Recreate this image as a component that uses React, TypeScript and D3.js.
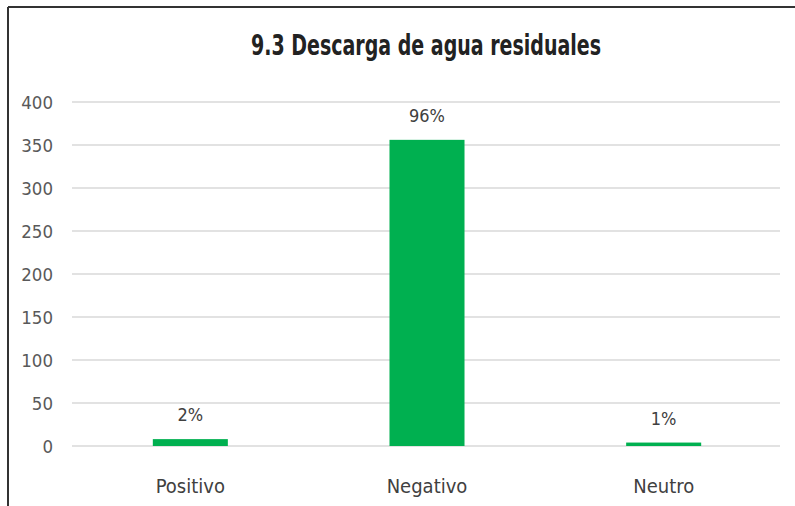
import React from "react";
import * as d3 from "d3";

const categories = ["Positivo", "Negativo", "Neutro"];
const values = [8, 356, 4];
const pctLabels = ["2%", "96%", "1%"];
const yTicks = [0, 50, 100, 150, 200, 250, 300, 350, 400];
const title = "9.3 Descarga de agua residuales";

const W = 795;
const H = 506;
const FONT = "'Liberation Sans Narrow', 'DejaVu Sans Condensed', 'Arial Narrow', sans-serif";

export default function App() {
  const x = d3.scaleBand<string>().domain(categories).range([72, 782]).paddingInner(0.683).paddingOuter(0.3415);
  const y = d3.scaleLinear().domain([0, 400]).range([446, 102]);

  return (
    <svg width={W} height={H} style={{ position: "absolute", left: 0, top: 0, background: "#fff" }}>
      <rect x={0} y={0} width={W} height={H} fill="#fff" />
      <line x1={8} y1={7} x2={W} y2={7} stroke="#333" strokeWidth={2} />
      <line x1={8} y1={7} x2={8} y2={H} stroke="#333" strokeWidth={2} />
      <text x={251} y={55} textLength={350} lengthAdjust="spacingAndGlyphs" fontFamily={FONT} fontWeight="bold" fontSize={28.5} fill="#222">
        {title}
      </text>
      {yTicks.map((t) => (
        <g key={t}>
          <line x1={72} x2={780} y1={y(t)} y2={y(t)} stroke="#d9d9d9" strokeWidth={1.5} />
          <text x={53} y={y(t) + 6.5} textAnchor="end" fontFamily={FONT} fontSize={18.5} fill="#595959">
            {t}
          </text>
        </g>
      ))}
      {categories.map((c, i) => (
        <g key={c}>
          <rect x={x(c)} y={y(values[i])} width={x.bandwidth()} height={y(0) - y(values[i])} fill="#00B050" />
          <text x={(x(c) as number) + x.bandwidth() / 2} y={y(values[i]) - 18} textAnchor="middle" fontFamily={FONT} fontSize={18} fill="#404040">
            {pctLabels[i]}
          </text>
          <text x={(x(c) as number) + x.bandwidth() / 2} y={493} textAnchor="middle" fontFamily={FONT} fontSize={20} fill="#404040">
            {c}
          </text>
        </g>
      ))}
    </svg>
  );
}
